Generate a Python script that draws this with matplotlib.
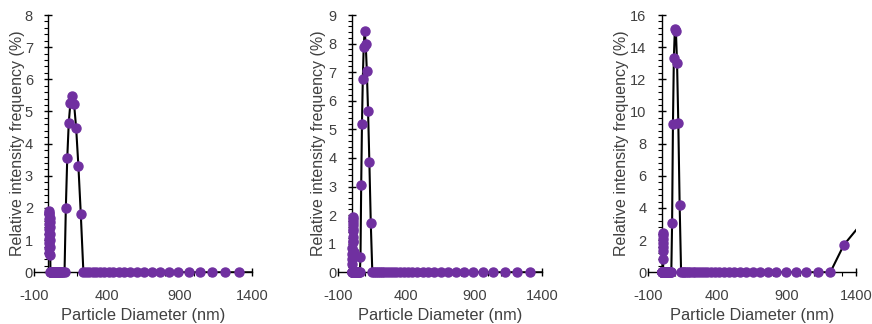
import matplotlib.pyplot as plt
import numpy as np
from matplotlib.ticker import MultipleLocator

plt.rcParams['font.family'] = ['Liberation Sans', 'DejaVu Sans']
plt.rcParams['axes.unicode_minus'] = False

# size bins (nm), shared by all three samples
diameter_nm = [
    3.8, 4.1, 4.4, 4.8, 5.1, 5.6, 6.0, 6.5, 7.0, 7.6,
    8.2, 8.8, 9.5, 10.3, 11.1, 12.0, 13.0, 14.0, 15.1, 16.3,
    17.6, 19.0, 20.6, 22.2, 24.0, 25.9, 28.0, 30.2, 32.6, 35.2,
    38.1, 41.1, 44.4, 47.9, 51.8, 55.9, 60.4, 65.2, 70.4, 76.1,
    82.2, 88.7, 95.8, 103.5, 111.8, 120.7, 130.4, 140.8, 152.1, 164.2,
    177.4, 191.6, 206.9, 223.4, 241.3, 260.6, 281.5, 304.0, 328.3, 354.6,
    382.9, 413.6, 446.7, 482.4, 521.0, 562.7, 607.7, 656.3, 708.8, 765.5,
    826.8, 892.9, 964.3, 1041.5, 1124.8, 1214.8, 1312.0, 1417.0,
]

# relative intensity (%)
intensity_a = [
    0.6, 0.75, 0.9, 1.05, 1.2, 1.35, 1.5, 1.65, 1.8, 1.9,
    1.85, 1.7, 1.55, 1.4, 1.2, 1.0, 0.8, 0.55,
    0, 0, 0, 0, 0, 0, 0, 0, 0, 0, 0, 0, 0, 0,
    0, 0, 0, 0, 0, 0, 0, 0, 0, 0, 0, 0, 0,
    1.99, 3.54, 4.65, 5.27, 5.48, 5.23, 4.48, 3.31, 1.81,
    0, 0, 0, 0, 0, 0, 0, 0, 0, 0, 0, 0,
    0, 0, 0, 0, 0, 0, 0, 0, 0, 0, 0, 0,
]
intensity_b = [
    0, 0, 0, 0, 0.3, 0.45, 0.65, 0.85, 1.05, 1.25,
    1.45, 1.65, 1.85, 1.95, 1.75, 1.5, 1.1, 0.7,
    0, 0, 0, 0, 0, 0, 0, 0, 0, 0,
    0, 0, 0, 0, 0, 0, 0, 0, 0,
    0.52, 3.05, 5.19, 6.76, 7.87, 8.45, 8.0, 7.04, 5.65, 3.85, 1.71,
    0, 0, 0, 0, 0, 0, 0, 0, 0, 0, 0, 0, 0, 0, 0,
    0, 0, 0, 0, 0, 0, 0, 0, 0, 0, 0, 0, 0, 0, 0,
]
intensity_c = [
    0, 0, 0, 0, 0, 0, 0, 0,
    0.8, 1.3, 1.8, 2.45, 2.3, 2.05, 1.55,
    0, 0, 0, 0, 0, 0, 0, 0, 0, 0, 0, 0,
    0, 0, 0, 0, 0, 0, 0, 0, 0, 0, 0, 0,
    3.09, 9.22, 13.3, 15.1, 15.0, 13.0, 9.3, 4.19,
    0, 0, 0, 0, 0, 0, 0, 0, 0, 0, 0, 0, 0, 0, 0,
    0, 0, 0, 0, 0, 0, 0, 0, 0, 0, 0, 0, 0, 0,
    1.7, 2.8,
]

y_max = [8, 9, 16]
y_step = [1, 1, 2]
x_ticks = [-100, 400, 900, 1400]

purple = '#7030a0'
text_col = '#404040'

# axes rectangles in figure fractions
rects = [
    [0.0386, 0.1596, 0.2507, 0.7941],
    [0.3876, 0.1596, 0.2343, 0.7941],
    [0.7427, 0.1596, 0.2390, 0.7941],
]
ylab_x = [-0.040, -0.059, -0.091]

fig = plt.figure(figsize=(8.72, 3.24), dpi=100)
x = np.array(diameter_nm)
inside = x <= 1400

for i, y in enumerate([intensity_a, intensity_b, intensity_c]):
    y = np.array(y)
    ax = fig.add_axes(rects[i])
    ax.plot(x, y, color='black', lw=1.5, zorder=3)
    ax.plot(x[inside], y[inside], 'o', color=purple, ms=6.5,
            mec=purple, zorder=4, clip_on=False)

    ax.set_xlim(-100, 1400)
    ax.set_ylim(0, y_max[i])
    ax.set_xticks(x_ticks)
    ax.xaxis.set_minor_locator(MultipleLocator(100))
    ax.yaxis.set_major_locator(MultipleLocator(y_step[i]))
    ax.yaxis.set_minor_locator(MultipleLocator(y_step[i] / 5))

    ax.spines['left'].set_position(('data', 0))
    ax.spines['top'].set_visible(False)
    ax.spines['right'].set_visible(False)
    for s in ['left', 'bottom']:
        ax.spines[s].set_linewidth(1.0)
        ax.spines[s].set_zorder(2.5)

    ax.tick_params(which='major', direction='inout', length=6, width=1.0,
                   labelsize=10.5, labelcolor=text_col)
    ax.tick_params(which='minor', direction='out', length=3, width=0.8)
    ax.tick_params(axis='x', which='major', pad=9)
    ax.tick_params(axis='y', which='major', pad=8)

    ax.set_xlabel('Particle Diameter (nm)', fontsize=11.8, color=text_col)
    ax.set_ylabel('Relative intensity frequency (%)', fontsize=11.5, color=text_col)
    ax.xaxis.set_label_coords(0.5, -0.139)
    ax.yaxis.set_label_coords(ylab_x[i], 0.5)

fig.savefig('out.png', dpi=100)
